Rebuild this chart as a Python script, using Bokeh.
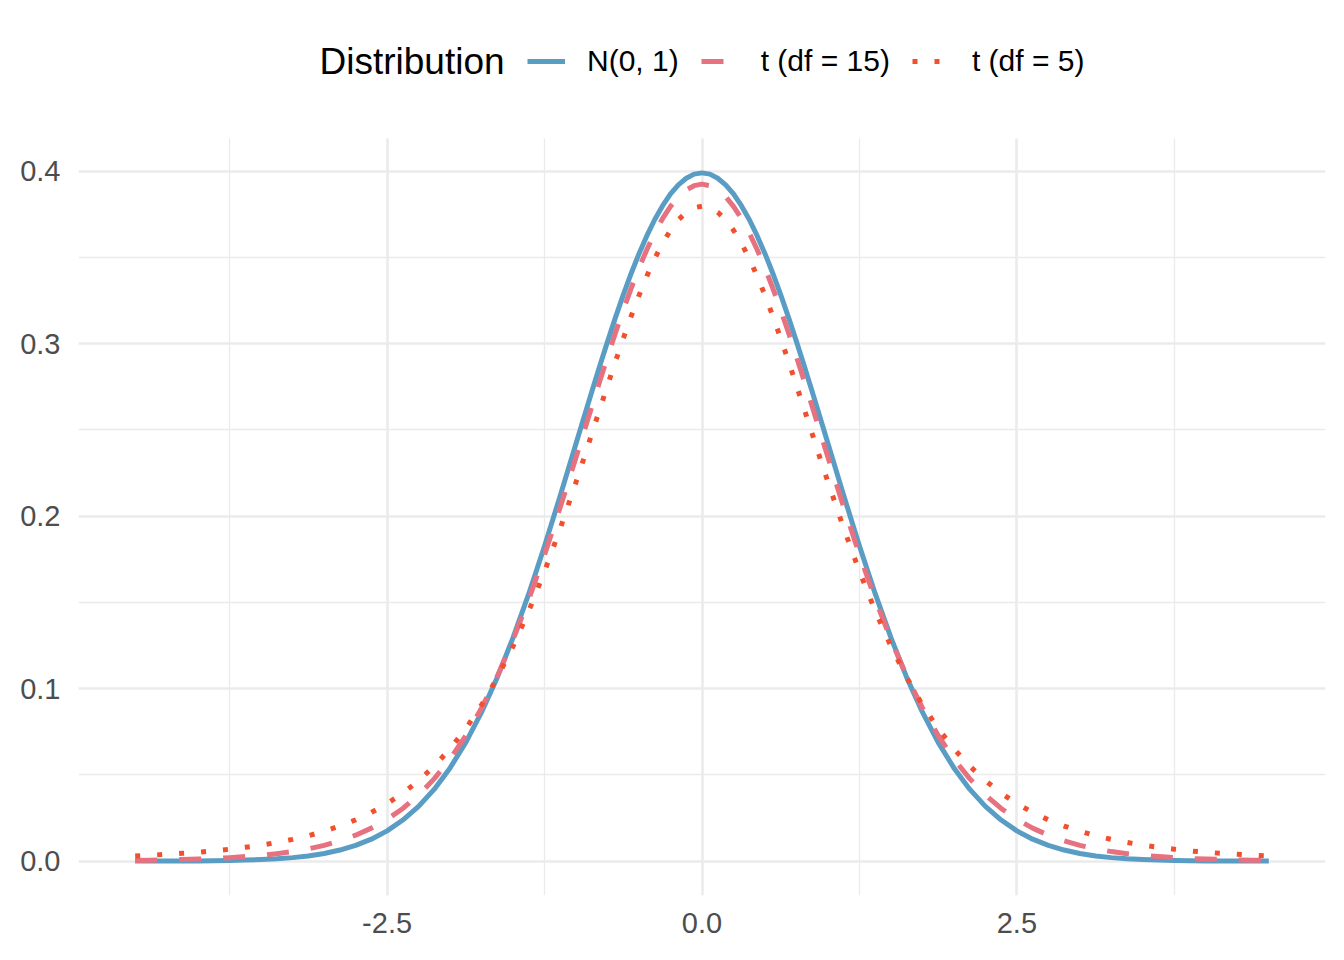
from bokeh.plotting import figure
from bokeh.models import FixedTicker, Legend, LegendItem, Label, BoxAnnotation
from bokeh.embed import file_html
from bokeh.resources import INLINE

# density values
x = [-4.5, -4.375, -4.25, -4.125, -4.0, -3.875, -3.75, -3.625, -3.5, -3.375, -3.25, -3.125,
     -3.0, -2.875, -2.75, -2.625, -2.5, -2.375, -2.25, -2.125, -2.0, -1.875, -1.75, -1.625,
     -1.5, -1.375, -1.25, -1.125,
     -1.0, -0.9375, -0.875, -0.8125, -0.75, -0.6875, -0.625, -0.5625, -0.5, -0.4375, -0.375, -0.3125,
     -0.25, -0.1875, -0.125, -0.0625, 0.0, 0.0625, 0.125, 0.1875, 0.25, 0.3125, 0.375, 0.4375,
     0.5, 0.5625, 0.625, 0.6875, 0.75, 0.8125, 0.875, 0.9375, 1.0,
     1.125, 1.25, 1.375, 1.5, 1.625, 1.75, 1.875, 2.0, 2.125, 2.25, 2.375, 2.5, 2.625, 2.75, 2.875,
     3.0, 3.125, 3.25, 3.375, 3.5, 3.625, 3.75, 3.875, 4.0, 4.125, 4.25, 4.375, 4.5]

normal = [0.0000, 0.0000, 0.0001, 0.0001, 0.0001, 0.0002, 0.0004, 0.0006, 0.0009, 0.0013, 0.0020, 0.0030,
          0.0044, 0.0064, 0.0091, 0.0127, 0.0175, 0.0238, 0.0317, 0.0417, 0.0540, 0.0688, 0.0863, 0.1065,
          0.1295, 0.1550, 0.1826, 0.2119,
          0.2420, 0.2571, 0.2721, 0.2868, 0.3011, 0.3150, 0.3282, 0.3406, 0.3521, 0.3625, 0.3719, 0.3799,
          0.3867, 0.3920, 0.3958, 0.3982, 0.3989, 0.3982, 0.3958, 0.3920, 0.3867, 0.3799, 0.3719, 0.3625,
          0.3521, 0.3406, 0.3282, 0.3150, 0.3011, 0.2868, 0.2721, 0.2571, 0.2420,
          0.2119, 0.1826, 0.1550, 0.1295, 0.1065, 0.0863, 0.0688, 0.0540, 0.0417, 0.0317, 0.0238, 0.0175,
          0.0127, 0.0091, 0.0064,
          0.0044, 0.0030, 0.0020, 0.0013, 0.0009, 0.0006, 0.0004, 0.0002, 0.0001, 0.0001, 0.0001, 0.0000, 0.0000]

t15 = [0.0004, 0.0005, 0.0007, 0.0009, 0.0012, 0.0015, 0.0020, 0.0026, 0.0033, 0.0043, 0.0055, 0.0071,
       0.0091, 0.0117, 0.0150, 0.0191, 0.0242, 0.0305, 0.0383, 0.0478, 0.0592, 0.0728, 0.0888, 0.1072,
       0.1283, 0.1518, 0.1776, 0.2052,
       0.2341, 0.2488, 0.2635, 0.2780, 0.2923, 0.3061, 0.3194, 0.3320, 0.3438, 0.3545, 0.3641, 0.3725,
       0.3795, 0.3851, 0.3891, 0.3915, 0.3924, 0.3915, 0.3891, 0.3851, 0.3795, 0.3725, 0.3641, 0.3545,
       0.3438, 0.3320, 0.3194, 0.3061, 0.2923, 0.2780, 0.2635, 0.2488, 0.2341,
       0.2052, 0.1776, 0.1518, 0.1283, 0.1072, 0.0888, 0.0728, 0.0592, 0.0478, 0.0383, 0.0305, 0.0242,
       0.0191, 0.0150, 0.0117,
       0.0091, 0.0071, 0.0055, 0.0043, 0.0033, 0.0026, 0.0020, 0.0015, 0.0012, 0.0009, 0.0007, 0.0005, 0.0004]

t5 = [0.0030, 0.0034, 0.0039, 0.0045, 0.0051, 0.0059, 0.0069, 0.0080, 0.0092, 0.0108, 0.0126, 0.0147,
      0.0173, 0.0203, 0.0239, 0.0282, 0.0333, 0.0394, 0.0466, 0.0551, 0.0651, 0.0768, 0.0905, 0.1064,
      0.1245, 0.1450, 0.1679, 0.1929,
      0.2197, 0.2335, 0.2476, 0.2617, 0.2757, 0.2895, 0.3029, 0.3158, 0.3279, 0.3391, 0.3493, 0.3582,
      0.3657, 0.3717, 0.3761, 0.3787, 0.3796, 0.3787, 0.3761, 0.3717, 0.3657, 0.3582, 0.3493, 0.3391,
      0.3279, 0.3158, 0.3029, 0.2895, 0.2757, 0.2617, 0.2476, 0.2335, 0.2197,
      0.1929, 0.1679, 0.1450, 0.1245, 0.1064, 0.0905, 0.0768, 0.0651, 0.0551, 0.0466, 0.0394, 0.0333,
      0.0282, 0.0239, 0.0203,
      0.0173, 0.0147, 0.0126, 0.0108, 0.0092, 0.0080, 0.0069, 0.0059, 0.0051, 0.0045, 0.0039, 0.0034, 0.0030]

labels = ["N(0, 1)", "t (df = 15)", "t (df = 5)"]
colors = ["#5A9DC4", "#E8717F", "#F24F2E"]
dashes = ["solid", "22 22", "5 17"]

x_ticks = [-2.5, 0.0, 2.5]
x_minor = [-3.75, -1.25, 1.25, 3.75]
y_ticks = [0.0, 0.1, 0.2, 0.3, 0.4]
y_minor = [0.05, 0.15, 0.25, 0.35]

FONT = "Liberation Sans"

# panel spans y 138..895 px; the frame is stretched to the top so the legend sits inside it
y_lo, y_hi = -0.01995, 0.41884
y_top = y_lo + (y_hi - y_lo) * 895 / 757

p = figure(width=1344, height=960, output_backend="svg", toolbar_location=None,
           x_range=(-4.95, 4.95), y_range=(y_lo, y_top),
           min_border_left=78, min_border_right=19, min_border_top=0, min_border_bottom=65)
p.outline_line_color = None
p.background_fill_color = "white"

renderers = []
for ys, c, d in zip([normal, t15, t5], colors, dashes):
    r = p.line(x, ys, line_color=c, line_width=5, line_dash=d, line_join="round")
    renderers.append(r)

for ax in (p.xaxis, p.yaxis):
    ax.axis_line_color = None
    ax.major_tick_line_color = None
    ax.minor_tick_line_color = None
    ax.major_label_text_font = FONT
    ax.major_label_text_font_size = "29px"
    ax.major_label_text_color = "#4D4D4D"

p.xaxis.ticker = FixedTicker(ticks=x_ticks, minor_ticks=x_minor)
p.yaxis.ticker = FixedTicker(ticks=y_ticks, minor_ticks=y_minor)
p.xaxis.major_label_overrides = {v: f"{v:.1f}" for v in x_ticks}
p.yaxis.major_label_overrides = {v: f"{v:.1f}" for v in y_ticks}
p.xaxis.major_label_standoff = 11
p.yaxis.major_label_standoff = 12

for g in (p.xgrid, p.ygrid):
    g.grid_line_color = "#EBEBEB"
    g.grid_line_width = 2.6
    g.minor_grid_line_color = "#EBEBEB"
    g.minor_grid_line_width = 1.3

# blank out the grid above the panel, where the legend goes
p.add_layout(BoxAnnotation(bottom=y_hi, fill_color="white", fill_alpha=1.0, line_color=None))

legend = Legend(items=[LegendItem(label=l, renderers=[r]) for l, r in zip(labels, renderers)],
                orientation="horizontal", location=(449, 817),
                glyph_width=38, glyph_height=30, label_height=30, label_standoff=22, spacing=22,
                padding=0, margin=0, border_line_color=None, background_fill_alpha=0,
                label_text_font=FONT, label_text_font_size="30px", label_text_color="black")
p.add_layout(legend, "center")

p.add_layout(Label(x=241, y=834, x_units="screen", y_units="screen", text="Distribution",
                   text_font=FONT, text_font_size="37px", text_baseline="middle",
                   text_color="black"))

open("out.html", "w").write(file_html(p, INLINE))
